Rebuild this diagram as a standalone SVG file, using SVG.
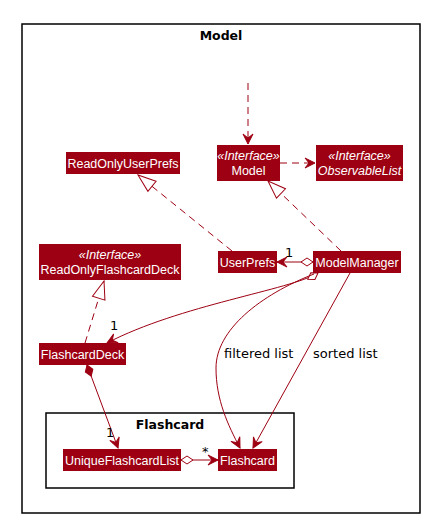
<svg xmlns="http://www.w3.org/2000/svg" width="429" height="522" viewBox="0 0 429 522">
<style>
.frame{fill:none;stroke:#000;stroke-width:1.5}
.ptitle{font-family:"DejaVu Sans",sans-serif;font-weight:bold;font-size:12.5px;fill:#000;text-anchor:middle}
.box{fill:#9D0012}
.name{font-family:"Liberation Sans",Arial,sans-serif;font-size:12.5px;fill:#fff;text-anchor:middle}
.st{font-style:italic}
.edge{fill:none;stroke:#9D0012;stroke-width:1}
.dash{stroke-dasharray:7,5}
.lbl{font-family:"DejaVu Sans",sans-serif;font-size:13px;fill:#000}
</style>
<defs>
<marker id="arrow" viewBox="-12 -7 14 14" refX="0" refY="0" markerWidth="14" markerHeight="14" markerUnits="userSpaceOnUse" orient="auto" overflow="visible">
<path d="M0,0 L-10,-5 L-6,0 L-10,5 Z" fill="#9D0012" stroke="#9D0012" stroke-width="1"/>
</marker>
<marker id="tri" viewBox="-20 -8 22 16" refX="0" refY="0" markerWidth="22" markerHeight="16" markerUnits="userSpaceOnUse" orient="auto" overflow="visible">
<path d="M0,0 L-18,-6.5 L-18,6.5 Z" fill="#fff" stroke="#9D0012" stroke-width="1"/>
</marker>
<marker id="odia" viewBox="-1 -5 14 10" refX="0" refY="0" markerWidth="14" markerHeight="10" markerUnits="userSpaceOnUse" orient="auto" overflow="visible">
<path d="M0,0 L6,-4 L12,0 L6,4 Z" fill="#fff" stroke="#9D0012" stroke-width="1"/>
</marker>
<marker id="fdia" viewBox="-1 -5 14 10" refX="0" refY="0" markerWidth="14" markerHeight="10" markerUnits="userSpaceOnUse" orient="auto" overflow="visible">
<path d="M0,0 L6,-4 L12,0 L6,4 Z" fill="#9D0012" stroke="#9D0012" stroke-width="1"/>
</marker>
</defs>

<g id="pkg-model">
<rect class="frame" x="22" y="24" width="398" height="489"/>
<text class="ptitle" x="221" y="40">Model</text>
</g>
<g id="pkg-flashcard">
<rect class="frame" x="46" y="413" width="248" height="75"/>
<text class="ptitle" x="170" y="429">Flashcard</text>
</g>

<g id="connectors">
<path class="edge dash" d="M248,83 L248,144" marker-end="url(#arrow)"/>
<path class="edge dash" d="M280,163 L315,163" marker-end="url(#arrow)"/>
<path class="edge dash" d="M232,251 L138,175" marker-end="url(#tri)"/>
<path class="edge dash" d="M341,251 L268,181" marker-end="url(#tri)"/>
<path class="edge dash" d="M85,343 L104,281" marker-end="url(#tri)"/>
<path class="edge" d="M313,262 L277,262" marker-start="url(#odia)" marker-end="url(#arrow)"/>
<path class="edge" d="M318,273 C290,290 180,305 107,343" marker-start="url(#odia)" marker-end="url(#arrow)"/>
<path class="edge" d="M314,274 C260,295 216,330 216,368 C216,400 228,425 240,448" marker-end="url(#arrow)"/>
<path class="edge" d="M350,273 L253,448" marker-end="url(#arrow)"/>
<path class="edge" d="M87,365 L118,448" marker-start="url(#fdia)" marker-end="url(#arrow)"/>
<path class="edge" d="M181,460 L218,460" marker-start="url(#odia)" marker-end="url(#arrow)"/>
<text class="lbl" x="285" y="257">1</text>
<text class="lbl" x="110" y="330">1</text>
<text class="lbl" x="106" y="437">1</text>
<text class="lbl" x="202" y="456">*</text>
<text class="lbl" x="224" y="358">filtered list</text>
<text class="lbl" x="313" y="358">sorted list</text>
</g>

<g id="Model">
<rect class="box" x="217" y="145" width="63" height="36"/>
<text class="name st" x="248.5" y="160">«Interface»</text>
<text class="name" x="248.5" y="175">Model</text>
</g>
<g id="ObservableList">
<rect class="box" x="316" y="145" width="87" height="36"/>
<text class="name st" x="359.5" y="160">«Interface»</text>
<text class="name st" x="359.5" y="175">ObservableList</text>
</g>
<g id="ReadOnlyUserPrefs">
<rect class="box" x="66" y="152" width="114" height="22"/>
<text class="name" x="123" y="167.5">ReadOnlyUserPrefs</text>
</g>
<g id="ReadOnlyFlashcardDeck">
<rect class="box" x="39" y="244" width="142" height="36"/>
<text class="name st" x="110" y="259">«Interface»</text>
<text class="name" x="110" y="274">ReadOnlyFlashcardDeck</text>
</g>
<g id="UserPrefs">
<rect class="box" x="218" y="251" width="59" height="22"/>
<text class="name" x="247.5" y="266.5">UserPrefs</text>
</g>
<g id="ModelManager">
<rect class="box" x="313" y="251" width="88" height="22"/>
<text class="name" x="357" y="266.5">ModelManager</text>
</g>
<g id="FlashcardDeck">
<rect class="box" x="39" y="343" width="87" height="22"/>
<text class="name" x="82.5" y="358.5">FlashcardDeck</text>
</g>
<g id="UniqueFlashcardList">
<rect class="box" x="63" y="449" width="118" height="22"/>
<text class="name" x="122" y="464.5">UniqueFlashcardList</text>
</g>
<g id="Flashcard">
<rect class="box" x="218" y="449" width="59" height="22"/>
<text class="name" x="247.5" y="464.5">Flashcard</text>
</g>
</svg>
